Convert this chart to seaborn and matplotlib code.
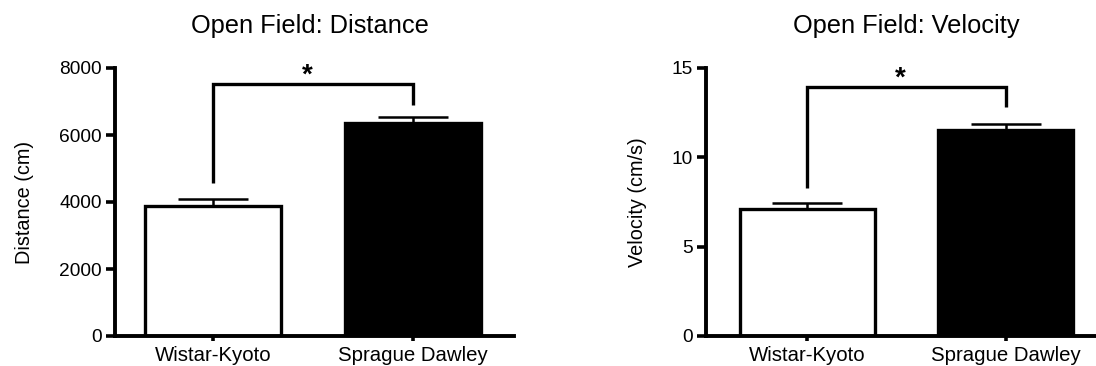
import matplotlib
matplotlib.use("Agg")
import matplotlib.pyplot as plt
import seaborn as sns

categories = ["Wistar-Kyoto", "Sprague Dawley"]
distance_mean = [3880, 6350]
distance_sem = [205, 190]
velocity_mean = [7.1, 11.55]
velocity_sem = [0.35, 0.33]

# significance brackets: (left leg bottom, top, right leg bottom)
distance_bracket = [4567, 7522, 6896]
velocity_bracket = [8.28, 13.95, 12.8]

sns.set_style("ticks")
plt.rcParams["font.family"] = ["Liberation Sans", "DejaVu Sans"]
plt.rcParams.update({"text.color": "black", "axes.labelcolor": "black",
                     "xtick.color": "black", "ytick.color": "black",
                     "axes.edgecolor": "black"})

fig = plt.figure(figsize=(10.96, 3.66), dpi=100)
ax1 = fig.add_axes([115 / 1096, 30 / 366, 399 / 1096, 268 / 366])
ax2 = fig.add_axes([706 / 1096, 30 / 366, 390 / 1096, 268 / 366])

panels = [
    (ax1, distance_mean, distance_sem, distance_bracket, "Open Field: Distance",
     "Distance (cm)", (0, 8000), [0, 2000, 4000, 6000, 8000], (-0.49, 1.505), 0.4875),
    (ax2, velocity_mean, velocity_sem, velocity_bracket, "Open Field: Velocity",
     "Velocity (cm/s)", (0, 15), [0, 5, 10, 15], (-0.51, 1.455), 0.513),
]

for ax, means, sems, br, title, ylabel, ylim, yticks, xlim, tx in panels:
    sns.barplot(x=categories, y=means, hue=categories, palette=["white", "black"],
                edgecolor="black", linewidth=2.4, width=0.68, legend=False,
                errorbar=None, ax=ax, zorder=2)
    ax.errorbar([0, 1], means, yerr=[[0, 0], sems], fmt="none", ecolor="black",
                elinewidth=1.8, capsize=25, capthick=1.8, zorder=3)
    ax.plot([0, 0, 1, 1], [br[0], br[1], br[1], br[2]], color="black", lw=2.4,
            solid_capstyle="butt", solid_joinstyle="miter", clip_on=False, zorder=4)
    yr = ylim[1] - ylim[0]
    ax.text(0.47, br[1] - yr * 0.018, "*", ha="center", va="bottom",
            fontsize=20, fontweight="bold", clip_on=False)
    ax.set_ylim(*ylim)
    ax.set_yticks(yticks)
    ax.set_xlim(*xlim)
    sns.despine(ax=ax)
    for s in ["left", "bottom"]:
        ax.spines[s].set_linewidth(2.8)
    ax.tick_params(axis="y", length=6.5, width=2.6, pad=3, labelsize=13.8)
    ax.tick_params(axis="x", length=3.5, width=2.6, pad=4, labelsize=14.7)
    ax.set_ylabel(ylabel, fontsize=14.3, labelpad=18)
    ax.set_xlabel("")
    t = ax.set_title(title, fontsize=18.3, pad=25)
    t.set_x(tx)

fig.savefig("out.png", dpi=100)
